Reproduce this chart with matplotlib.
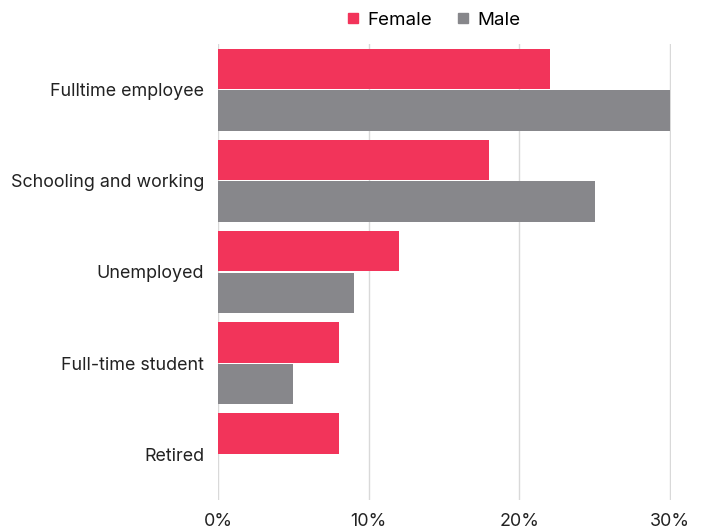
import numpy as np
import matplotlib.pyplot as plt
from matplotlib.lines import Line2D

# survey results, percent of respondents
categories = ['Fulltime employee', 'Schooling and working', 'Unemployed',
              'Full-time student', 'Retired']
female = [22, 18, 12, 8, 8]
male = [30, 25, 9, 5, 0]
xticks = [0, 10, 20, 30]

c_female = '#F2345A'
c_male = '#87878B'

plt.rcParams['font.family'] = ['Inter', 'DejaVu Sans']

fig = plt.figure(figsize=(7.04, 5.31), dpi=100)
ax = fig.add_axes([218 / 704, 1 - 500 / 531, 453 / 704, (500 - 44) / 531])

y = np.arange(len(categories))
h = 0.445
ax.barh(y - 0.228, female, height=h, color=c_female, zorder=3)
ax.barh(y + 0.228, male, height=h, color=c_male, zorder=3)

ax.set_ylim(len(categories) - 0.5, -0.5)
ax.set_xlim(0, 30.05)
ax.set_yticks(y)
ax.set_yticklabels(categories, fontsize=12.9, color='#222222', va='center_baseline')
ax.set_xticks(xticks)
ax.set_xticklabels([f'{t}%' for t in xticks], fontsize=12.9, color='#222222')
ax.tick_params(axis='both', length=0)
ax.tick_params(axis='y', pad=10)
ax.tick_params(axis='x', pad=9)
for s in ax.spines.values():
    s.set_visible(False)
ax.grid(axis='x', color='#D9D9D9', linewidth=1, zorder=0)

handles = [Line2D([], [], marker='s', linestyle='none', color=c_female, markersize=6.5),
           Line2D([], [], marker='s', linestyle='none', color=c_male, markersize=6.5)]
fig.legend(handles, ['Female', 'Male'], loc='center', bbox_to_anchor=(433 / 704, 1 - 20 / 531),
           ncol=2, frameon=False, fontsize=13.5, handletextpad=0.4, columnspacing=1.2,
           handlelength=0.8)

fig.savefig('out.png', dpi=100)
